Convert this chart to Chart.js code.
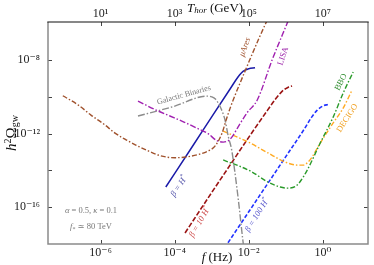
<!DOCTYPE html>
<html>
<head>
<meta charset="utf-8">
<script src="https://cdn.jsdelivr.net/npm/chart.js@4"></script>
<style>
  html, body { margin: 0; padding: 0; background: #fff; }
</style>
</head>
<body>
<canvas id="myChart" width="374" height="265"></canvas>
<script>
// all values are log10
const fRange = [-7.42, 1.22];
const omegaRange = [-18.0, -5.93];
const tOffset = 7; // T_hor axis = f axis shifted by 7 decades

const fTickExp = [-6, -4, -2, 0];
const tTickExp = [1, 3, 5, 7];
const omegaTickExp = [-16, -12, -8];
const omegaMinorExp = [-14, -10];

const muAresF = [-7.02, -6.6, -6.26, -5.9, -5.61, -5.3, -5.05, -4.7, -4.45, -4.2, -4.0, -3.7, -3.35, -3.1, -2.9, -2.72, -2.61, -2.5, -2.42, -2.1, -1.72, -1.45];
const muAresO = [-9.94, -10.45, -10.99, -11.5, -11.97, -12.35, -12.62, -12.95, -13.16, -13.28, -13.31, -13.27, -13.13, -12.95, -12.65, -11.97, -11.26, -10.6, -10.17, -8.6, -6.8, -5.6];

const lisaF = [-4.99, -4.5, -4.13, -3.75, -3.4, -3.1, -2.86, -2.69, -2.55, -2.45, -2.29, -2.05, -1.77, -1.37, -0.96, -0.88];
const lisaO = [-10.23, -10.72, -11.04, -11.37, -11.7, -12.0, -12.38, -12.46, -12.38, -12.18, -11.64, -10.88, -10.17, -8.0, -5.99, -5.6];

const galacticF = [-4.99, -4.04, -3.13, -3.0, -2.9, -2.78, -2.64, -2.55, -2.46, -2.37, -2.28, -2.16, -2.14];
const galacticO = [-11.04, -10.53, -9.96, -10.0, -10.12, -10.5, -11.26, -12.17, -12.89, -14.16, -15.61, -17.78, -18.1];

const bboF = [-2.69, -1.96, -1.48, -1.15, -0.96, -0.75, -0.62, -0.42, -0.07, 0.28, 0.55, 0.82];
const bboO = [-13.43, -14.03, -14.63, -14.9, -14.96, -14.88, -14.63, -13.98, -12.51, -11.1, -9.79, -8.65];

const decigoF = [-2.69, -1.96, -1.48, -1.02, -0.69, -0.53, -0.4, -0.29, -0.07, 0.28, 0.55, 0.79];
const decigoO = [-11.86, -12.51, -13.05, -13.54, -13.71, -13.71, -13.55, -13.27, -12.51, -11.42, -10.61, -9.63];

const beta1F = [-4.24, -3.5, -3.0, -2.5, -2.3, -2.2, -2.1, -2.0, -1.83];
const beta1O = [-14.9, -12.63, -11.09, -9.56, -8.95, -8.7, -8.55, -8.47, -8.42];

const beta10F = [-3.72, -3.0, -2.5, -1.96, -1.5, -1.25, -1.1, -1.0, -0.92, -0.83];
const beta10O = [-17.4, -15.2, -13.7, -12.08, -10.75, -10.05, -9.7, -9.55, -9.46, -9.41];

const beta100F = [-2.65, -2.0, -1.0, -0.5, -0.3, -0.15, 0.0, 0.15];
const beta100O = [-18.2, -16.25, -13.25, -11.75, -11.1, -10.72, -10.5, -10.41];

const serif = "'Liberation Serif', 'DejaVu Serif', serif";

// text notes: [segments], position in log data units, angle in degrees
const notes = [
  { seg: [['Galactic Binaries', '', 8]], f: -3.75, o: -9.9, a: -15.5, c: '#777' },
  { seg: [['μAres', 'italic ', 8.5]], f: -2.1, o: -7.29, a: -70, c: '#a0522d' },
  { seg: [['LISA', '', 8.5]], f: -1.07, o: -7.78, a: -71, c: '#9a20a8' },
  { seg: [['BBO', '', 8.5]], f: 0.49, o: -9.2, a: -63, c: '#2a8a2a' },
  { seg: [['DECIGO', '', 8.5]], f: 0.66, o: -11.15, a: -57, c: '#f0a020' },
  { seg: [['β = ', 'italic ', 8.5], ['H', 'italic ', 8.5], ['*', '', 6, -3]], f: -3.88, o: -14.85, a: -56, c: '#5050a8' },
  { seg: [['β = 10 ', 'italic ', 8.5], ['H', 'italic ', 8.5], ['*', '', 6, -3]], f: -3.32, o: -16.8, a: -60, c: '#cc4444' },
  { seg: [['β = 100 ', 'italic ', 8.5], ['H', 'italic ', 8.5], ['*', '', 6, -3]], f: -1.77, o: -16.42, a: -58, c: '#5555cc' },
  { seg: [['α', 'italic ', 8.5], [' = 0.5, ', '', 8.5], ['κ', 'italic ', 8.5], [' = 0.1', '', 8.5]], f: -6.26, o: -16.21, a: 0, c: '#777' },
  { seg: [['f', 'italic ', 8.5], ['*', '', 6, 2], [' ≃ 80 TeV', '', 8.5]], f: -6.26, o: -17.08, a: 0, c: '#777' }
];

const supMap = { '-': '⁻', '0': '⁰', '1': '¹', '2': '²', '3': '³', '4': '⁴', '5': '⁵', '6': '⁶', '7': '⁷', '8': '⁸', '9': '⁹' };
function powLabel(v) {
  const e = Math.round(Math.log10(v));
  return '10' + String(e).split('').map(c => supMap[c]).join('');
}

function pts(lf, lo) {
  return lf.map((v, i) => ({ x: Math.pow(10, v), y: Math.pow(10, lo[i]) }));
}

function curve(label, lf, lo, color, dash, width) {
  return {
    label: label,
    data: pts(lf, lo),
    borderColor: color,
    borderDash: dash,
    borderWidth: width || 1.4,
    pointRadius: 0,
    fill: false,
    tension: 0.4,
    cubicInterpolationMode: 'monotone'
  };
}

function drawRich(ctx, seg, x, y, align) {
  let total = 0;
  seg.forEach(s => { ctx.font = s[1] + s[2] + 'px ' + serif; total += ctx.measureText(s[0]).width; });
  let cx = align === 'center' ? x - total / 2 : x;
  ctx.textAlign = 'left';
  ctx.textBaseline = 'middle';
  seg.forEach(s => {
    ctx.font = s[1] + s[2] + 'px ' + serif;
    ctx.fillText(s[0], cx, y + (s[3] || 0));
    cx += ctx.measureText(s[0]).width;
  });
}

const decor = {
  id: 'decor',
  afterDatasetsDraw(chart) {
    const ctx = chart.ctx, xs = chart.scales.x, ys = chart.scales.y;
    notes.forEach(n => {
      const px = xs.getPixelForValue(Math.pow(10, n.f));
      const py = ys.getPixelForValue(Math.pow(10, n.o));
      ctx.save();
      ctx.translate(px, py);
      ctx.rotate(n.a * Math.PI / 180);
      ctx.fillStyle = n.c;
      drawRich(ctx, n.seg, 0, 0, 'center');
      ctx.restore();
    });
  },
  afterDraw(chart) {
    const ctx = chart.ctx, a = chart.chartArea;
    const xs = chart.scales.x, xt = chart.scales.x2, ys = chart.scales.y;
    ctx.save();
    // inward tick marks
    ctx.strokeStyle = '#444';
    ctx.lineWidth = 1;
    ctx.beginPath();
    fTickExp.forEach(e => {
      const p = Math.round(xs.getPixelForValue(Math.pow(10, e))) + 0.5;
      ctx.moveTo(p, a.bottom); ctx.lineTo(p, a.bottom - 4);
    });
    tTickExp.forEach(e => {
      const p = Math.round(xt.getPixelForValue(Math.pow(10, e))) + 0.5;
      ctx.moveTo(p, a.top); ctx.lineTo(p, a.top + 4);
    });
    omegaTickExp.concat(omegaMinorExp).forEach(e => {
      const p = Math.round(ys.getPixelForValue(Math.pow(10, e))) + 0.5;
      ctx.moveTo(a.left, p); ctx.lineTo(a.left + 4, p);
      ctx.moveTo(a.right, p); ctx.lineTo(a.right - 4, p);
    });
    ctx.stroke();
    // frame
    ctx.strokeStyle = '#8a8a8a';
    ctx.lineWidth = 1.5;
    ctx.beginPath();
    ctx.moveTo(a.left, a.top); ctx.lineTo(a.left, a.bottom);
    ctx.lineTo(a.right, a.bottom); ctx.lineTo(a.right, a.top);
    ctx.stroke();
    ctx.strokeStyle = '#111';
    ctx.lineWidth = 1.2;
    ctx.beginPath();
    ctx.moveTo(a.left - 0.7, a.top); ctx.lineTo(a.right + 0.7, a.top);
    ctx.stroke();
    // axis titles
    ctx.fillStyle = '#111';
    drawRich(ctx, [['f', 'italic ', 13], [' (Hz)', '', 13]], (a.left + a.right) / 2 + 9, 258, 'center');
    drawRich(ctx, [['T', 'italic ', 13], ['hor', 'italic ', 9, 2], [' (GeV)', '', 13]], (a.left + a.right) / 2 + 7, 9, 'center');
    ctx.translate(12, (a.top + a.bottom) / 2);
    ctx.rotate(-Math.PI / 2);
    drawRich(ctx, [['h', 'italic ', 15], ['2', '', 10, -4], ['Ω', '', 15], ['gw', '', 10, 3]], 0, 0, 'center');
    ctx.restore();
  }
};

const ctx = document.getElementById('myChart');

new Chart(ctx, {
  type: 'line',
  data: {
    datasets: [
      curve('μAres', muAresF, muAresO, '#a0522d', [5, 2, 1.5, 2]),
      curve('LISA', lisaF, lisaO, '#a020b0', [6, 2, 1.5, 2]),
      curve('Galactic Binaries', galacticF, galacticO, '#8c8c8c', [7, 2, 1.5, 2]),
      curve('BBO', bboF, bboO, '#2a9a2a', [5, 2, 1.5, 2]),
      curve('DECIGO', decigoF, decigoO, '#ffaa22', [5, 2, 1.5, 2]),
      curve('β = H*', beta1F, beta1O, '#1a1aa8', [], 1.5),
      curve('β = 10 H*', beta10F, beta10O, '#9b1414', [5, 2], 1.6),
      curve('β = 100 H*', beta100F, beta100O, '#2233ff', [4, 2], 1.6)
    ]
  },
  options: {
    responsive: false,
    animation: false,
    devicePixelRatio: 1,
    layout: { padding: { left: 0, right: 6, top: 0, bottom: 0 } },
    plugins: { legend: { display: false }, tooltip: { enabled: false } },
    scales: {
      x: {
        type: 'logarithmic',
        position: 'bottom',
        min: Math.pow(10, fRange[0]),
        max: Math.pow(10, fRange[1]),
        afterBuildTicks: s => { s.ticks = fTickExp.map(e => ({ value: Math.pow(10, e) })); },
        afterFit: s => { s.height = 21; },
        ticks: { callback: v => powLabel(v), font: { family: serif, size: 12 }, color: '#222', padding: 2, maxRotation: 0, autoSkip: false },
        grid: { display: false, drawTicks: false },
        border: { display: false }
      },
      x2: {
        type: 'logarithmic',
        position: 'top',
        min: Math.pow(10, fRange[0] + tOffset),
        max: Math.pow(10, fRange[1] + tOffset),
        afterBuildTicks: s => { s.ticks = tTickExp.map(e => ({ value: Math.pow(10, e) })); },
        afterFit: s => { s.height = 22; },
        ticks: { callback: v => powLabel(v), font: { family: serif, size: 12 }, color: '#222', padding: 1, maxRotation: 0, autoSkip: false },
        grid: { display: false, drawTicks: false },
        border: { display: false }
      },
      y: {
        type: 'logarithmic',
        min: Math.pow(10, omegaRange[0]),
        max: Math.pow(10, omegaRange[1]),
        afterBuildTicks: s => { s.ticks = omegaTickExp.map(e => ({ value: Math.pow(10, e) })); },
        afterFit: s => { s.width = 48; },
        ticks: { callback: v => powLabel(v), font: { family: serif, size: 12 }, color: '#222', padding: 8, autoSkip: false },
        grid: { display: false, drawTicks: false },
        border: { display: false }
      }
    }
  },
  plugins: [decor]
});
</script>
</body>
</html>
